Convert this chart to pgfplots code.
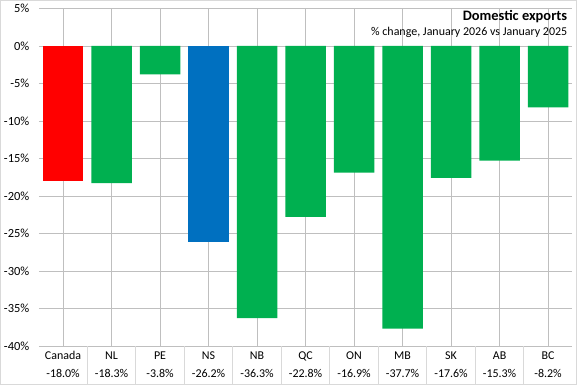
\documentclass[border=0pt]{standalone}
\usepackage{pgfplots}
\pgfplotsset{compat=1.18}
\usepackage{fontspec}
\setmainfont{Carlito}
\definecolor{cred}{HTML}{FF0000}
\definecolor{cgreen}{HTML}{00B050}
\definecolor{cblue}{HTML}{0070C0}
\definecolor{grid}{HTML}{D9D9D9}
\begin{document}
\begin{tikzpicture}
\useasboundingbox (0,0) rectangle (577bp,385bp);
\draw[grid, line width=0.8bp] (0.4bp,0.4bp) rectangle (576.6bp,384.6bp);
\begin{axis}[
  at={(38.8bp,39bp)}, anchor=south west,
  scale only axis, width=533.5bp, height=337.5bp,
  xmin=-0.5, xmax=10.5, ymin=-40, ymax=5,
  ybar, bar width=40.5bp,
  axis line style={draw=none},
  ytick={-40,-35,...,5},
  yticklabels={-40\%,-35\%,-30\%,-25\%,-20\%,-15\%,-10\%,-5\%,0\%,5\%},
  ymajorgrids, grid style={grid, line width=0.8bp},
  major tick length=0pt,
  yticklabel style={font=\fontsize{12.5}{14}\selectfont, anchor=east, xshift=-6bp},
  xtick={0,...,10},
  xticklabels={{Canada\\-18.0\%},{NL\\-18.3\%},{PE\\-3.8\%},{NS\\-26.2\%},{NB\\-36.3\%},{QC\\-22.8\%},{ON\\-16.9\%},{MB\\-37.7\%},{SK\\-17.6\%},{AB\\-15.3\%},{BC\\-8.2\%}},
  xticklabel style={font=\fontsize{12}{18}\selectfont, align=center, anchor=north, yshift=-2bp},
  extra x ticks={0.5,1.5,...,9.5},
  extra x tick labels={},
  extra x tick style={grid=none, major tick length=37.5bp, tick align=outside, xtick pos=bottom, tick style={draw=grid, line width=0.8bp}},
  clip=false,
]
\addplot[fill=cred, draw=none, bar shift=0pt] coordinates {(0,-18.0)};
\addplot[fill=cgreen, draw=none, bar shift=0pt] coordinates {(1,-18.3) (2,-3.8) (4,-36.3) (5,-22.8) (6,-16.9) (7,-37.7) (8,-17.6) (9,-15.3) (10,-8.2)};
\addplot[fill=cblue, draw=none, bar shift=0pt] coordinates {(3,-26.2)};
\node[anchor=base east, font=\bfseries\fontsize{14.5}{16}\selectfont] at ([yshift=-12.5bp]rel axis cs:0.997,1) {Domestic exports};
\node[anchor=base east, font=\fontsize{12}{14}\selectfont] at ([yshift=-27.5bp]rel axis cs:0.997,1) {\% change, January 2026 vs January 2025};
\end{axis}
\end{tikzpicture}
\end{document}
